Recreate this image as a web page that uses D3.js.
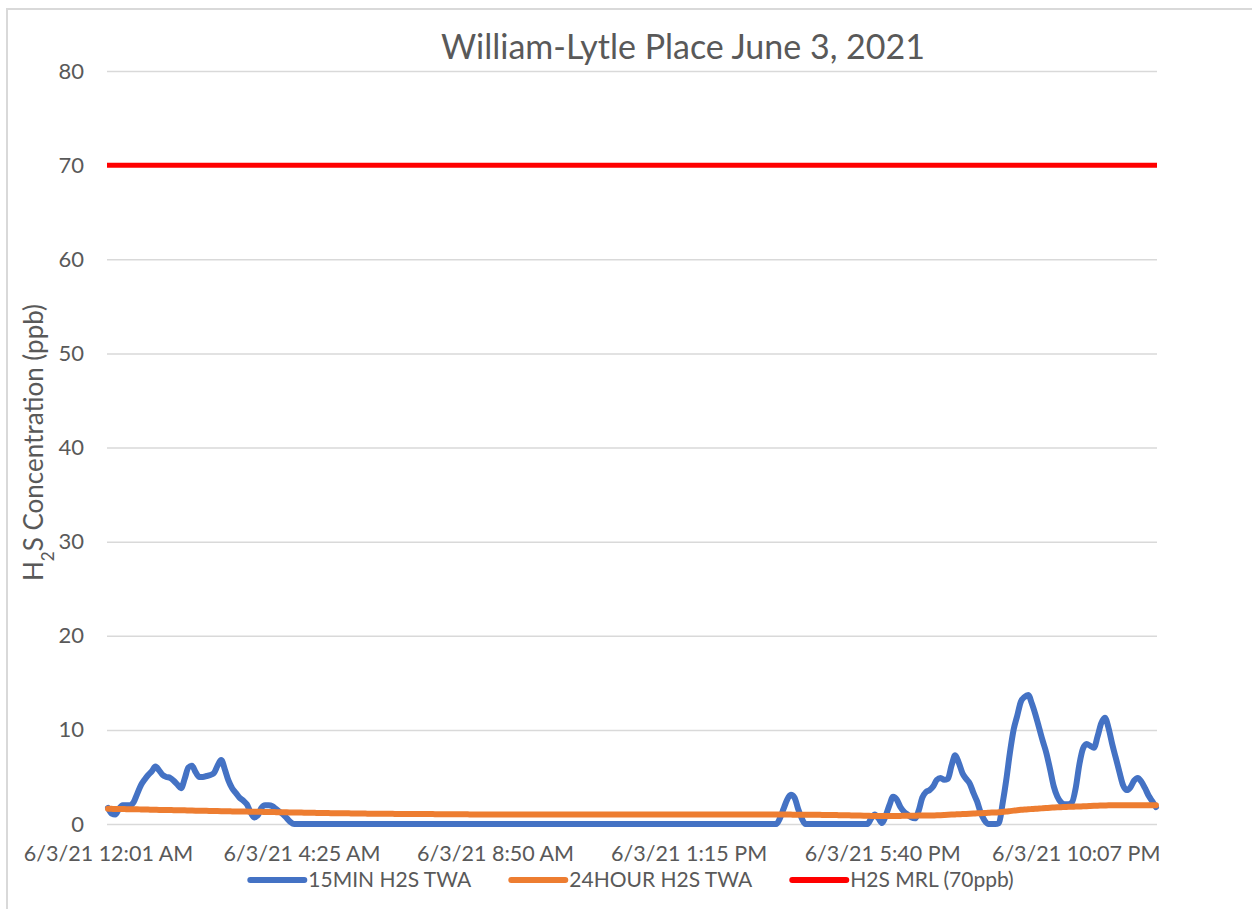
<!DOCTYPE html>
<html>
<head>
<meta charset="utf-8">
<script src="https://cdn.jsdelivr.net/npm/d3@7"></script>
<style>
  html, body { margin: 0; padding: 0; background: #fff; }
  svg { display: block; }
  text { font-family: Lato, "Open Sans", sans-serif; fill: #595959; }
</style>
</head>
<body>
<svg id="chart" width="1252" height="909"></svg>
<script>
// ---- Data ----
const chartTitle = "William-Lytle Place June 3, 2021";
const seriesNames = ["15MIN H2S TWA", "24HOUR H2S TWA", "H2S MRL (70ppb)"];
const seriesColors = ["#4472C4", "#ED7D31", "#FF0000"];
const yTicks = [0, 10, 20, 30, 40, 50, 60, 70, 80];
const xTickIndex = [0, 53, 106, 159, 212, 265];
const xTickLabels = ["6/3/21 12:01 AM", "6/3/21 4:25 AM", "6/3/21 8:50 AM", "6/3/21 1:15 PM", "6/3/21 5:40 PM", "6/3/21 10:07 PM"];

// 15-minute TWA (ppb), one reading per 5-minute record
const twa15 = [
  1.7,1.1,1.0,1.6,2.0,2.0,2.0,2.3,3.2,4.1,
  4.7,5.2,5.6,6.1,5.7,5.2,5.0,4.9,4.6,4.2,
  3.8,4.8,6.0,6.2,5.5,5.0,5.0,5.1,5.2,5.4,
  6.2,6.8,5.8,4.6,3.8,3.3,2.8,2.5,2.1,1.3,
  0.7,0.9,1.7,2.0,2.0,1.9,1.6,1.3,1.0,0.6,
  0.2,0,0,0,0,0,0,0,0,0,
  0,0,0,0,0,0,0,0,0,0,
  0,0,0,0,0,0,0,0,0,0,
  0,0,0,0,0,0,0,0,0,0,
  0,0,0,0,0,0,0,0,0,0,
  0,0,0,0,0,0,0,0,0,0,
  0,0,0,0,0,0,0,0,0,0,
  0,0,0,0,0,0,0,0,0,0,
  0,0,0,0,0,0,0,0,0,0,
  0,0,0,0,0,0,0,0,0,0,
  0,0,0,0,0,0,0,0,0,0,
  0,0,0,0,0,0,0,0,0,0,
  0,0,0,0,0,0,0,0,0,0,
  0,0,0,0,0.6,1.6,2.6,3.1,2.8,1.6,
  0.6,0,0,0,0,0,0,0,0,0,
  0,0,0,0,0,0,0,0,0,0.6,
  1.0,0.6,0.1,0.9,2.0,2.9,2.6,1.8,1.3,1.0,
  0.7,0.6,1.4,2.8,3.4,3.6,4.0,4.7,4.9,4.7,
  4.8,6.2,7.3,6.5,5.4,4.8,4.3,3.3,2.4,1.2,
  0.4,0,0,0,0.1,2.2,4.7,7.6,10.0,11.5,
  13.0,13.5,13.7,12.8,11.6,10.2,8.8,7.5,5.8,4.0,
  2.9,2.3,2.1,2.1,2.3,3.8,6.3,8.0,8.5,8.3,
  8.1,9.3,10.7,11.3,10.2,8.5,7.0,5.5,4.1,3.6,
  3.9,4.6,4.9,4.5,3.8,3.0,2.4,1.8
];

// 24-hour TWA (ppb)
const twa24 = [
  1.62,1.61,1.60,1.60,1.59,1.58,1.57,1.56,1.56,1.55,
  1.54,1.53,1.52,1.51,1.50,1.50,1.49,1.48,1.47,1.46,
  1.45,1.45,1.44,1.43,1.42,1.41,1.40,1.40,1.39,1.38,
  1.37,1.36,1.35,1.35,1.34,1.34,1.33,1.32,1.32,1.31,
  1.30,1.30,1.29,1.28,1.27,1.27,1.26,1.25,1.24,1.24,
  1.23,1.22,1.21,1.21,1.20,1.19,1.19,1.18,1.17,1.17,
  1.16,1.15,1.15,1.14,1.14,1.13,1.13,1.12,1.12,1.11,
  1.11,1.10,1.10,1.10,1.09,1.09,1.08,1.08,1.08,1.07,
  1.07,1.07,1.06,1.06,1.06,1.06,1.05,1.05,1.05,1.05,
  1.04,1.04,1.04,1.04,1.03,1.03,1.03,1.03,1.03,1.02,
  1.02,1.02,1.02,1.02,1.02,1.01,1.01,1.01,1.01,1.01,
  1.01,1.01,1.00,1.00,1.00,1.00,1.00,1.00,1.00,1.00,
  1.00,1.00,1.00,1.00,1.00,1.00,1.00,1.00,1.00,1.00,
  1.00,1.00,1.00,1.00,1.00,1.00,1.00,1.00,1.00,1.00,
  1.00,1.00,1.00,1.00,1.00,1.00,1.00,1.00,1.00,1.00,
  1.00,1.00,1.00,1.00,1.00,1.00,1.00,1.00,1.00,1.00,
  1.00,1.00,1.00,1.00,1.00,1.00,1.00,1.00,1.00,1.00,
  1.00,1.00,1.00,1.00,1.00,1.00,1.00,1.00,1.00,1.00,
  1.00,1.00,1.00,1.00,1.00,1.00,1.00,1.00,0.99,0.99,
  0.99,0.99,0.98,0.98,0.97,0.97,0.96,0.96,0.95,0.95,
  0.94,0.93,0.93,0.92,0.91,0.90,0.89,0.88,0.87,0.86,
  0.85,0.85,0.85,0.85,0.85,0.86,0.86,0.86,0.87,0.87,
  0.88,0.88,0.89,0.89,0.90,0.90,0.91,0.92,0.94,0.96,
  0.98,1.00,1.02,1.04,1.05,1.07,1.09,1.11,1.13,1.15,
  1.17,1.19,1.21,1.23,1.24,1.28,1.32,1.37,1.42,1.47,
  1.51,1.54,1.56,1.59,1.62,1.64,1.67,1.70,1.73,1.75,
  1.77,1.79,1.80,1.82,1.83,1.85,1.86,1.88,1.89,1.91,
  1.93,1.95,1.96,1.97,1.98,1.98,1.99,1.99,2.00,2.00,
  2.00,2.00,2.00,2.00,2.00,2.00,2.00,2.00
];

// Minimal risk level (constant)
const mrlValue = 70;

// ---- Layout ----
const svg = d3.select("#chart");
const W = 1252, H = 909;
const plot = { left: 107, right: 1157, top: 71, bottom: 824 };
const N = twa15.length;

const x = d3.scaleLinear().domain([0, N - 1]).range([plot.left + 1, plot.right - 1]);
const y = d3.scaleLinear().domain([0, 80]).range([plot.bottom, plot.top]);

svg.append("rect").attr("width", W).attr("height", H).attr("fill", "#fff");
// chart border (cropped on right/bottom)
svg.append("rect").attr("x", 7).attr("y", 9).attr("width", 1400).attr("height", 1000)
  .attr("fill", "none").attr("stroke", "#d9d9d9").attr("stroke-width", 2);

// Title
svg.append("text").attr("x", 683).attr("y", 59).attr("text-anchor", "middle")
  .style("font-size", "34px").text(chartTitle);

// Gridlines + y axis labels
const yAxis = d3.axisLeft(y).tickValues(yTicks).tickSize(-(plot.right - plot.left)).tickPadding(23);
const gy = svg.append("g").attr("transform", `translate(${plot.left},0)`).call(yAxis);
gy.select(".domain").remove();
gy.selectAll(".tick line").attr("stroke", "#d9d9d9").attr("stroke-width", 1.5);
gy.selectAll(".tick text").style("font-size", "22px").attr("fill", "#595959")
  .style("font-family", "Lato, sans-serif");

// X axis labels
const xAxis = d3.axisBottom(x).tickValues(xTickIndex)
  .tickFormat((d, i) => xTickLabels[i]).tickSize(0).tickPadding(22);
const gx = svg.append("g").attr("transform", `translate(0,${plot.bottom})`).call(xAxis);
gx.select(".domain").remove();
gx.selectAll(".tick text").style("font-size", "21.5px").attr("fill", "#595959")
  .style("font-family", "Lato, sans-serif");

// Y axis title with subscript
const yt = svg.append("text")
  .attr("transform", `translate(43,${(plot.top + plot.bottom) / 2 - 5}) rotate(-90)`)
  .attr("text-anchor", "middle").style("font-size", "26px");
yt.append("tspan").text("H");
yt.append("tspan").text("2").attr("baseline-shift", "sub").style("font-size", "17px");
yt.append("tspan").text("S Concentration (ppb)");

// Lines
const line = d3.line().x((d, i) => x(i)).y(d => y(d)).curve(d3.curveMonotoneX);
svg.append("path").datum(twa15).attr("d", line).attr("fill", "none")
  .attr("stroke", seriesColors[0]).attr("stroke-width", 6).attr("stroke-linejoin", "round").attr("stroke-linecap", "round");
svg.append("path").datum(twa24).attr("d", line).attr("fill", "none")
  .attr("stroke", seriesColors[1]).attr("stroke-width", 6).attr("stroke-linejoin", "round").attr("stroke-linecap", "round");
svg.append("line").attr("x1", x(0) - 1).attr("x2", x(N - 1) + 1).attr("y1", y(mrlValue)).attr("y2", y(mrlValue))
  .attr("stroke", seriesColors[2]).attr("stroke-width", 5);

// Legend
const legendY = 880;
const lg = svg.append("g");
const items = seriesNames.map((name, i) => {
  const g = lg.append("g");
  g.append("line").attr("x1", 0).attr("x2", 54).attr("y1", 0).attr("y2", 0)
    .attr("stroke", seriesColors[i]).attr("stroke-width", 6).attr("stroke-linecap", "round");
  const t = g.append("text").attr("x", 58).attr("y", 0).attr("dy", "0.35em")
    .style("font-size", "21px").text(name);
  return { g, w: 58 + t.node().getComputedTextLength() };
});
const gap = 40;
const total = d3.sum(items, d => d.w) + gap * (items.length - 1);
let cx = (plot.left + plot.right) / 2 - total / 2;
items.forEach(it => { it.g.attr("transform", `translate(${cx},${legendY})`); cx += it.w + gap; });
</script>
</body>
</html>
